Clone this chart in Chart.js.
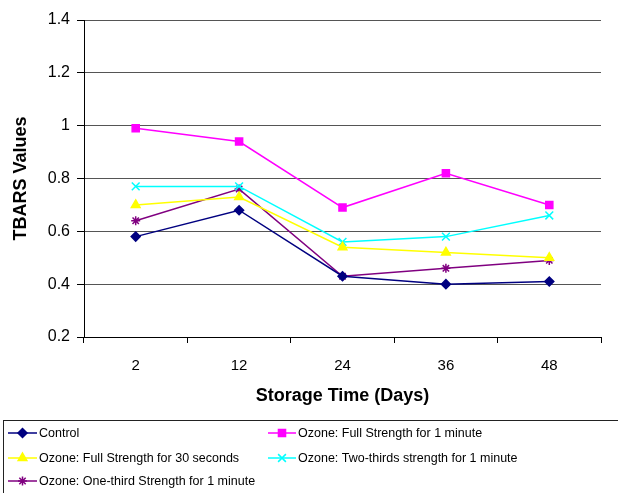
<!DOCTYPE html>
<html>
<head>
<meta charset="utf-8">
<script src="https://cdn.jsdelivr.net/npm/chart.js@4/dist/chart.umd.min.js"></script>
<style>
  html, body { margin: 0; padding: 0; background: #fff; }
  #wrap { width: 618px; height: 493px; position: relative; }
</style>
</head>
<body>
<div id="wrap"><canvas id="c" width="618" height="493"></canvas></div>
<script>
const categories = ["2", "12", "24", "36", "48"];
const seriesNames = [
  "Control",
  "Ozone: Full Strength for 1 minute",
  "Ozone: Full Strength for 30 seconds",
  "Ozone: Two-thirds strength for 1 minute",
  "Ozone: One-third Strength for 1 minute"
];
const control      = [0.58, 0.68, 0.43, 0.40, 0.41];
const fullOneMin   = [0.99, 0.94, 0.69, 0.82, 0.70];
const fullThirtyS  = [0.70, 0.73, 0.54, 0.52, 0.50];
const twoThirds    = [0.77, 0.77, 0.56, 0.58, 0.66];
const oneThird     = [0.64, 0.76, 0.43, 0.46, 0.49];
const yTicks = [0.2, 0.4, 0.6, 0.8, 1, 1.2, 1.4];
const xTitle = "Storage Time (Days)";
const yTitle = "TBARS Values";

const FONT = "'Liberation Sans', Arial, sans-serif";
const styles = [
  { color: "#000080", pointStyle: "rectRot", r: 4.5 },
  { color: "#FF00FF", pointStyle: "rect", r: 5 },
  { color: "#FFFF00", pointStyle: "triangle", r: 5 },
  { color: "#00FFFF", pointStyle: "crossRot", r: 5.5 },
  { color: "#800080", pointStyle: "star", r: 4.5 }
];
const values = [control, fullOneMin, fullThirtyS, twoThirds, oneThird];

const datasets = values.map((d, i) => ({
  label: seriesNames[i],
  data: d,
  borderColor: styles[i].color,
  backgroundColor: styles[i].color,
  pointBackgroundColor: styles[i].color,
  pointBorderColor: styles[i].color,
  pointStyle: styles[i].pointStyle,
  pointRadius: styles[i].r,
  pointBorderWidth: 1.5,
  borderWidth: 1.5,
  tension: 0,
  fill: false
}));

const legendPlugin = {
  id: 'customLegend',
  afterDraw(chart) {
    const ctx = chart.ctx;
    ctx.save();
    ctx.strokeStyle = '#222';
    ctx.lineWidth = 1;
    ctx.strokeRect(3.5, 420.5, 640, 100);
    const rows = [433, 458, 481];
    const cols = [{ x0: 8, x1: 37, tx: 39 }, { x0: 268, x1: 296, tx: 298 }];
    ctx.font = "12.5px " + FONT;
    ctx.textBaseline = 'middle';
    ctx.textAlign = 'left';
    chart.data.datasets.forEach((ds, i) => {
      const col = cols[i % 2];
      const y = rows[Math.floor(i / 2)];
      ctx.strokeStyle = ds.borderColor;
      ctx.lineWidth = 1.5;
      ctx.beginPath();
      ctx.moveTo(col.x0, y);
      ctx.lineTo(col.x1, y);
      ctx.stroke();
      ctx.fillStyle = ds.pointBackgroundColor;
      ctx.strokeStyle = ds.pointBorderColor;
      Chart.helpers.drawPoint(ctx, {
        pointStyle: ds.pointStyle,
        radius: ds.pointRadius,
        rotation: 0,
        borderWidth: 1.5
      }, (col.x0 + col.x1) / 2, y);
      ctx.fillStyle = '#000';
      ctx.fillText(ds.label, col.tx, y + 0.5);
    });
    ctx.restore();
  }
};

new Chart(document.getElementById('c'), {
  type: 'line',
  data: { labels: categories, datasets },
  options: {
    responsive: false,
    animation: false,
    events: [],
    layout: { padding: { left: 0, right: 17, top: 20, bottom: 83 } },
    plugins: {
      legend: { display: false },
      tooltip: { enabled: false },
      title: { display: false }
    },
    scales: {
      x: {
        type: 'category',
        offset: true,
        grid: { offset: true, drawOnChartArea: false, drawTicks: true, tickLength: 6, color: '#000', tickColor: '#000' },
        border: { display: true, color: '#000', width: 1 },
        ticks: { color: '#000', font: { family: FONT, size: 15 }, padding: 14, maxRotation: 0 },
        title: { display: true, text: xTitle, color: '#000', font: { family: FONT, size: 18, weight: 'bold' }, padding: { top: 0, bottom: 3 } },
        afterFit(scale) { scale.height = 73; }
      },
      y: {
        min: 0.2, max: 1.4,
        afterBuildTicks(scale) { scale.ticks = yTicks.map(v => ({ value: v })); },
        grid: { color: '#555', tickColor: '#000', tickLength: 7, drawTicks: true },
        border: { display: true, color: '#000', width: 1 },
        ticks: {
          color: '#000', font: { family: FONT, size: 16 }, padding: 7,
          callback: (v) => String(Number(v.toFixed(1)))
        },
        title: { display: true, text: yTitle, color: '#000', font: { family: FONT, size: 18, weight: 'bold' }, padding: { top: 10, bottom: 0 } },
        afterFit(scale) { scale.width = 84; }
      }
    }
  },
  plugins: [legendPlugin]
});
</script>
</body>
</html>
